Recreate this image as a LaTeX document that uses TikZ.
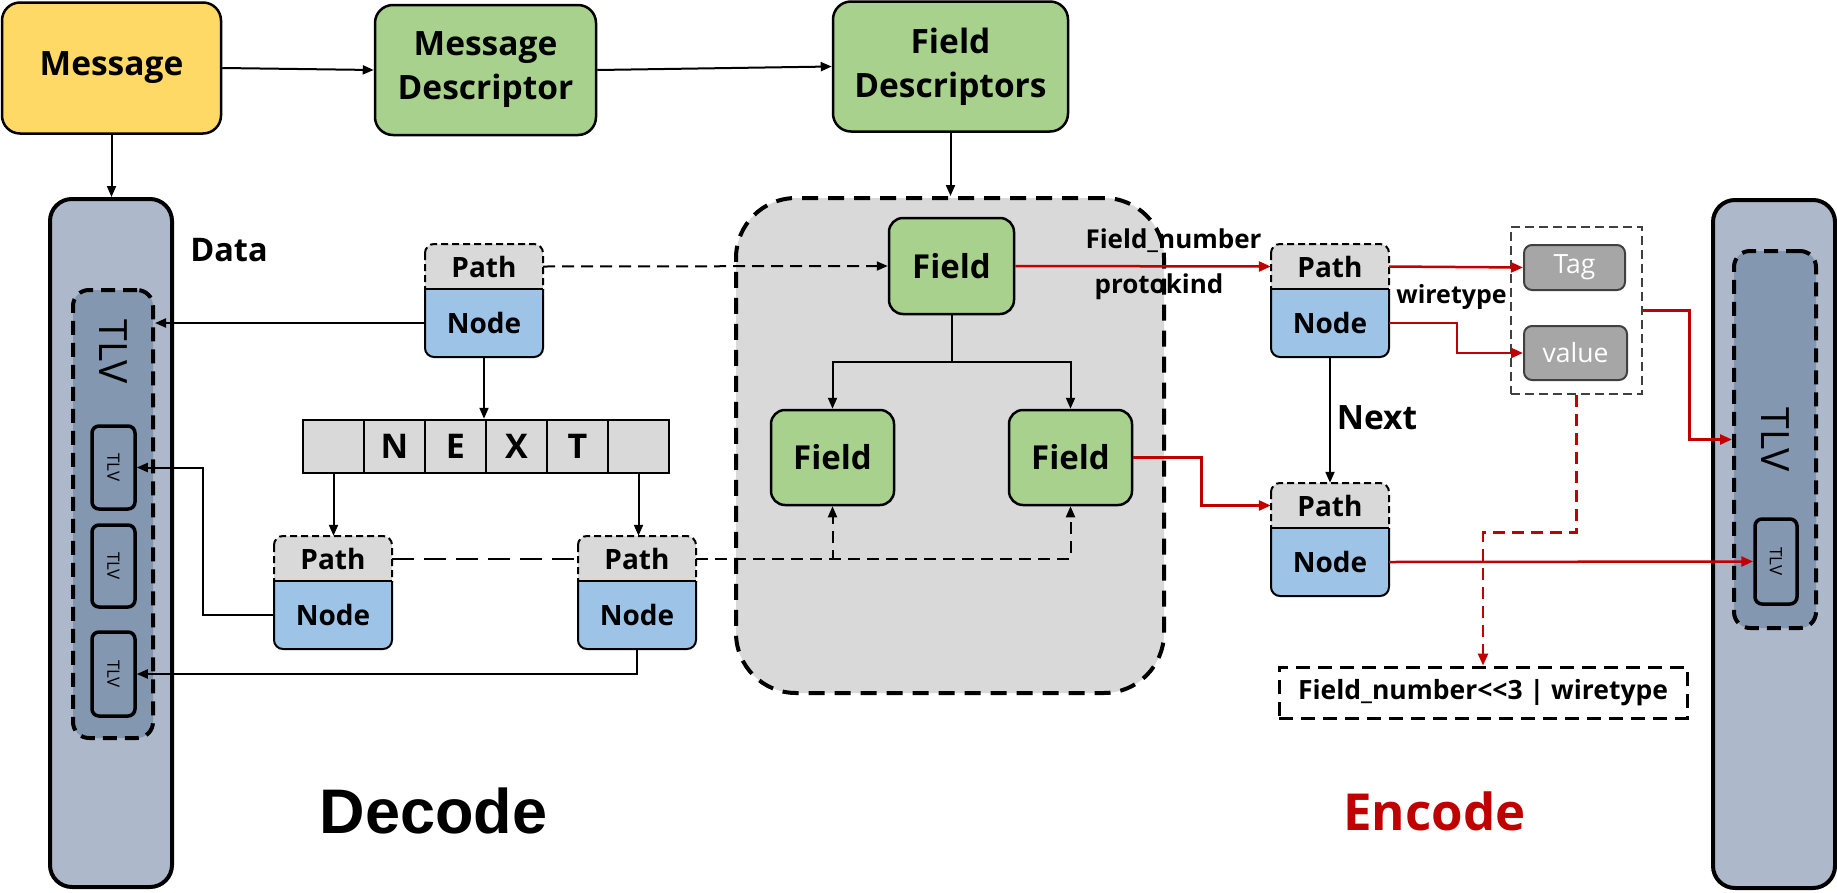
\documentclass[tikz,border=0pt]{standalone}
\usepackage{fontspec}
\usepackage{graphicx}
\setmainfont{Open Sans}
\newfontfamily\arialfont{Liberation Sans}
\usetikzlibrary{arrows.meta}
\definecolor{msgyellow}{HTML}{FFD966}
\definecolor{fieldgreen}{HTML}{A9D18E}
\definecolor{pathgray}{HTML}{D9D9D9}
\definecolor{nodeblue}{HTML}{9DC3E6}
\definecolor{tlvouter}{HTML}{ADB9CA}
\definecolor{tlvinner}{HTML}{8497B0}
\definecolor{tagfill}{HTML}{A6A6A6}
\definecolor{framegray}{HTML}{404040}
\definecolor{encred}{HTML}{C00000}
\newcommand\fsz[2]{\fontsize{#1pt}{#2pt}\selectfont}
\tikzset{
  box/.style={draw, line width=2.5pt, rounded corners=18pt, align=center, font=\bfseries\fsz{33.5}{44}, inner sep=0pt},
  fieldbox/.style={draw, line width=2.5pt, rounded corners=14pt, fill=fieldgreen, font=\bfseries\fsz{33}{38}, inner sep=0pt, minimum width=123pt, minimum height=95pt},
  arr/.style={line width=2pt, -{Triangle[length=11pt,width=9pt]}},
  redarr/.style={line width=2.5pt, draw=encred, -{Triangle[length=12pt,width=10pt]}},
  cell/.style={draw, line width=2.5pt, fill=pathgray, minimum width=61pt, minimum height=53pt, inner sep=0pt, font=\bfseries\fsz{34}{34}},
  outercol/.style={draw, line width=4pt, rounded corners=22pt, fill=tlvouter, minimum width=122pt, minimum height=688pt},
  innercol/.style={draw, line width=4pt, dash pattern=on 14pt off 8pt, rounded corners=16pt, fill=tlvinner},
  bigtlv/.style={font=\fsz{39}{39}, inner sep=0pt},
  smalltlv/.style={draw, line width=3.5pt, rounded corners=7pt, fill=tlvinner, inner sep=0pt, font=\fsz{17}{17}},
  container/.style={draw, line width=4pt, dash pattern=on 16pt off 10pt, rounded corners=60pt, fill=pathgray},
  pntext/.style={inner sep=0pt, font=\bfseries\fsz{28}{28}},
  lbl/.style={inner sep=0pt, font=\bfseries\fsz{26}{26}},
  gbox/.style={draw=framegray, line width=2pt, rounded corners=8pt, fill=tagfill, text=white, inner sep=0pt, font=\fsz{26.5}{26.5}},
}
% Path/Node pair: #1 name, #2 centre x, #3 top y
\newcommand\pathnode[3]{%
  \begin{scope}
    \clip (#2-66,#3-8) rectangle (#2+66,#3+45);
    \filldraw[fill=pathgray, line width=2pt, dash pattern=on 7pt off 4pt, rounded corners=9pt] (#2-59,#3) rectangle (#2+59,#3+113);
  \end{scope}
  \begin{scope}
    \clip (#2-66,#3+45) rectangle (#2+66,#3+121);
    \filldraw[fill=nodeblue, line width=2pt, rounded corners=9pt] (#2-59,#3) rectangle (#2+59,#3+113);
  \end{scope}
  \draw[line width=2pt] (#2-59,#3+45) -- (#2+59,#3+45);
  \node[pntext, minimum width=118pt, minimum height=45pt] (#1p) at (#2,#3+22.5) {Path};
  \node[pntext, minimum width=118pt, minimum height=68pt] (#1n) at (#2,#3+79) {Node};
}
\begin{document}
\begin{tikzpicture}[x=1pt,y=-1pt]
\useasboundingbox (0,0) rectangle (1837,892);

% ---------- top row ----------
\node[box, fill=msgyellow, minimum width=219pt, minimum height=131pt] (msg) at (111.5,68) {Message};
\node[box, fill=fieldgreen, minimum width=221pt, minimum height=130pt] (md) at (485.5,70) {Message\\Descriptor};
\node[box, fill=fieldgreen, minimum width=235pt, minimum height=130pt] (fd) at (950.5,66.5) {Field\\Descriptors};
\draw[arr] (msg.east) -- (md.west);
\draw[arr] (md.east) -- (fd.west);

% ---------- left TLV column ----------
\node[outercol] (lcol) at (111,543) {};
\node[innercol, minimum width=80pt, minimum height=448pt] (lin) at (113,514) {};
\node[bigtlv] (ltlv) at (113,352) {\rotatebox{-90}{TLV}};
\node[smalltlv, minimum width=43pt, minimum height=83pt] (lt1) at (113.5,467.5) {\rotatebox{-90}{TLV}};
\node[smalltlv, minimum width=43pt, minimum height=82pt] (lt2) at (113.5,566) {\rotatebox{-90}{TLV}};
\node[smalltlv, minimum width=43pt, minimum height=84pt] (lt3) at (113.5,674) {\rotatebox{-90}{TLV}};
\draw[arr] (msg.south) -- (msg.south |- lcol.north);
\node[inner sep=0pt, font=\bfseries\fsz{32.5}{32.5}] (data) at (229,250) {Data};

% ---------- decode tree ----------
\pathnode{n1}{484}{244}
\pathnode{n2}{333}{536}
\pathnode{n3}{637}{536}
\node[cell] (c1) at (333.5,446.5) {};
\node[cell] (c2) at (394.5,446.5) {N};
\node[cell] (c3) at (455.5,446.5) {E};
\node[cell] (c4) at (516.5,446.5) {X};
\node[cell] (c5) at (577.5,446.5) {T};
\node[cell] (c6) at (638.5,446.5) {};
\draw[arr] (n1n.south) -- (n1n.south |- c3.north);
\draw[arr] (c1.south) -- (c1.south |- n2p.north);
\draw[arr] (c6.south) -- (c6.south |- n3p.north);
\draw[arr] (n1n.west) -- (n1n.west -| lin.east);
\draw[arr] (n2n.west) -- ++(-71,0) |- (lt1.east);
\draw[arr] (n3n.south) |- (lt3.east);

% ---------- field container ----------
\node[container, minimum width=428pt, minimum height=495pt] (cont) at (950,445.5) {};
\draw[arr] (fd.south) -- (fd.south |- cont.north);
\node[fieldbox, minimum width=125pt, minimum height=96pt] (f1) at (951.5,266) {Field};
\node[fieldbox] (f2) at (832.5,457.5) {Field};
\node[fieldbox] (f3) at (1070.5,457.5) {Field};
\coordinate (fj) at (951.5,362);
\draw[line width=2pt] (f1.south) -- (fj);
\draw[arr] (fj) -| (f2.north);
\draw[arr] (fj) -| (f3.north);
\draw[arr, dash pattern=on 12pt off 7pt] (n1p.east) -- (f1.west);
\draw[line width=2pt, dash pattern=on 22pt off 10pt] (n2p.east) -- (n3p.west);
\draw[arr, dash pattern=on 12pt off 7pt] (n3p.east) -| (f2.south);
\draw[arr, dash pattern=on 12pt off 7pt] (n3p.east) -| (f3.south);

% ---------- encode side ----------
\pathnode{r1}{1330}{244}
\pathnode{r2}{1330}{483}
\draw[redarr] (f1.east) -- (r1p.west);
\node[lbl] (fnum) at (1173.5,241) {Field\_number};
\node[lbl] (pkind) at (1159,287) {protokind};
\draw[redarr] (f3.east) -- ++(68,0) |- (r2p.west);
\draw[arr] (r1n.south) -- (r2p.north);
\node[inner sep=0pt, font=\bfseries\fsz{33.5}{33.5}] (next) at (1377,418) {Next};

\node[draw=framegray, line width=2.5pt, dash pattern=on 9pt off 5pt, minimum width=131pt, minimum height=167pt] (tf) at (1576.5,310.5) {};
\node[gbox, minimum width=101pt, minimum height=45pt] (tag) at (1574.5,267.5) {Tag};
\node[gbox, minimum width=103pt, minimum height=54pt] (val) at (1575.5,353) {value};
\draw[redarr] (r1p.east) -- (tag.west);
\node[lbl, font=\bfseries\fsz{25}{25}] (wt) at (1451.5,297) {wiretype};
\draw[redarr] (r1n.east) -- ++(68,0) |- (val.west);

% ---------- right TLV column ----------
\node[outercol] (rcol) at (1774,544) {};
\node[innercol, minimum width=82pt, minimum height=377pt] (rin) at (1775,439.5) {};
\node[bigtlv] (rtlv) at (1775,440) {\rotatebox{-90}{TLV}};
\node[smalltlv, minimum width=42pt, minimum height=85pt] (rt1) at (1776,561.5) {\rotatebox{-90}{TLV}};
\draw[redarr] (tf.east) -- ++(46,0) |- (rin.west);
\draw[redarr] (r2n.east) -- (rt1.west);

% ---------- formula ----------
\node[draw, line width=3pt, dash pattern=on 14pt off 8pt, minimum width=408pt, minimum height=51pt, inner sep=0pt, font=\bfseries\fsz{26.5}{26.5}] (fm) at (1483,692.5) {Field\_number<{}<3 | wiretype};
\draw[redarr, dash pattern=on 12pt off 7pt] (tf.south) -- ++(0,137) -| (fm.north);

% ---------- titles ----------
\node[inner sep=0pt, font=\arialfont\bfseries\fsz{63}{63}] (dec) at (433.5,811) {Decode};
\node[inner sep=0pt, text=encred, font=\bfseries\fsz{51}{51}] (enc) at (1434.5,811) {Encode};
\end{tikzpicture}
\end{document}
